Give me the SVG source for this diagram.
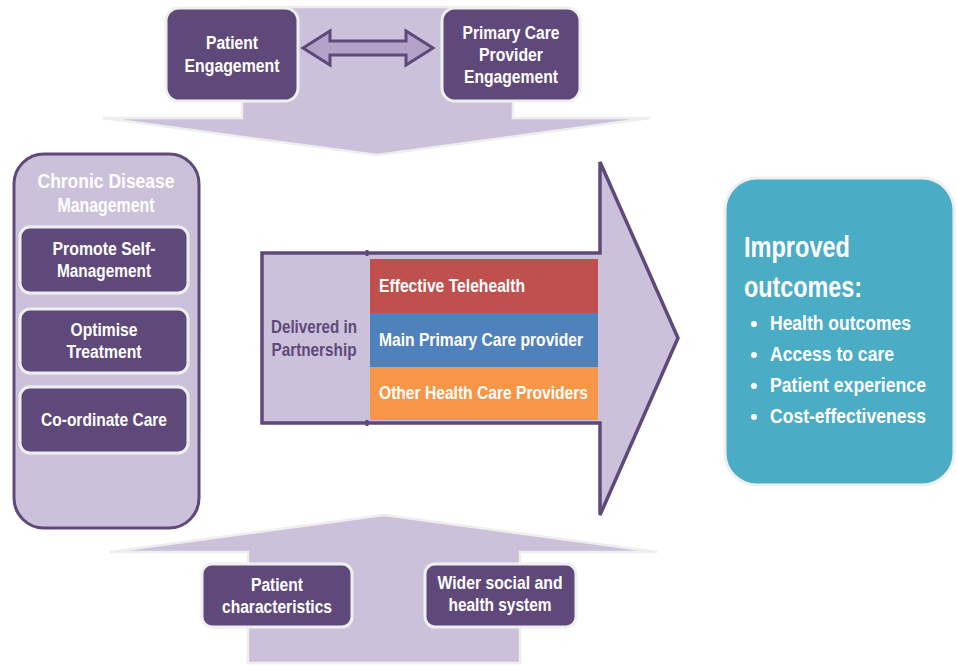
<svg xmlns="http://www.w3.org/2000/svg" width="957" height="665" viewBox="0 0 957 665">
<style>
.bg{fill:#ffffff}
.lav{fill:#ccc1da;stroke:#eeeeee;stroke-width:2.5}
.dark{fill:#5f497a;stroke:#efefef;stroke-width:3}
.t{font-family:"Liberation Sans",Arial,sans-serif;font-weight:bold;fill:#ffffff;text-anchor:middle}
.w{font-size:17.5px}
.band{font-family:"Liberation Sans",Arial,sans-serif;font-weight:bold;fill:#ffffff;font-size:18px}
.pt{font-family:"Liberation Sans",Arial,sans-serif;font-weight:bold;fill:#5f497a;font-size:18px;text-anchor:middle}
.out{font-family:"Liberation Sans",Arial,sans-serif;font-weight:bold;fill:#ffffff}
</style>
<rect class="bg" x="0" y="0" width="957" height="665"/>
<g id="connectors">
  <path id="top-arrow" class="lav" d="M242,7 L513,7 L513,118 L650,118 L377,155 L103,118 L242,118 Z"/>
  <path id="bottom-arrow" class="lav" d="M384,515 L657,552 L520,552 L520,663 L248,663 L248,552 L110,552 Z"/>
  <path id="double-arrow" d="M303,48 L330,31 L330,41 L406,41 L406,31 L433,48 L406,65 L406,55 L330,55 L330,65 Z" fill="#b3a2c7" stroke="#5f497a" stroke-width="3" stroke-linejoin="miter"/>
</g>
<g id="patient-engagement">
  <rect class="dark" x="166" y="8" width="132" height="93" rx="13"/>
  <text class="t w" x="232" y="49" textLength="52" lengthAdjust="spacingAndGlyphs">Patient</text>
  <text class="t w" x="232" y="72" textLength="95" lengthAdjust="spacingAndGlyphs">Engagement</text>
</g>
<g id="pcp-engagement">
  <rect class="dark" x="442" y="8" width="138" height="93" rx="13"/>
  <text class="t w" x="511" y="39" textLength="97" lengthAdjust="spacingAndGlyphs">Primary Care</text>
  <text class="t w" x="511" y="61" textLength="64" lengthAdjust="spacingAndGlyphs">Provider</text>
  <text class="t w" x="511" y="83" textLength="94" lengthAdjust="spacingAndGlyphs">Engagement</text>
</g>
<g id="chronic-disease-management">
  <rect x="14" y="154" width="185" height="374" rx="30" fill="#ccc1da" stroke="#5f497a" stroke-width="3"/>
  <text class="t" x="106" y="188" font-size="19.5" textLength="137" lengthAdjust="spacingAndGlyphs">Chronic Disease</text>
  <text class="t" x="106" y="212" font-size="19.5" textLength="97" lengthAdjust="spacingAndGlyphs">Management</text>
</g>
<g id="promote-self-management">
  <rect class="dark" x="20" y="227" width="168" height="66" rx="10"/>
  <text class="t w" x="104" y="255" textLength="103" lengthAdjust="spacingAndGlyphs">Promote Self-</text>
  <text class="t w" x="104" y="277" textLength="94" lengthAdjust="spacingAndGlyphs">Management</text>
</g>
<g id="optimise-treatment">
  <rect class="dark" x="20" y="309" width="168" height="64" rx="10"/>
  <text class="t w" x="104" y="336" textLength="67" lengthAdjust="spacingAndGlyphs">Optimise</text>
  <text class="t w" x="104" y="358" textLength="75" lengthAdjust="spacingAndGlyphs">Treatment</text>
</g>
<g id="coordinate-care">
  <rect class="dark" x="20" y="387" width="168" height="66" rx="10"/>
  <text class="t w" x="104" y="426" textLength="126" lengthAdjust="spacingAndGlyphs">Co-ordinate Care</text>
</g>
<g id="delivered-in-partnership">
  <path d="M262,253 L600,253 L600,162 L678,338 L600,515 L600,423 L262,423 Z" fill="#ccc1da" stroke="#5f497a" stroke-width="3.5" stroke-linejoin="miter"/>
  <path d="M367,250 L367,256 M367,420 L367,426" stroke="#5f497a" stroke-width="3"/>
  <text class="pt" x="314" y="333" textLength="86" lengthAdjust="spacingAndGlyphs">Delivered in</text>
  <text class="pt" x="314" y="356" textLength="85" lengthAdjust="spacingAndGlyphs">Partnership</text>
</g>
<g id="effective-telehealth">
  <rect x="370" y="259" width="228" height="54" fill="#c0504d"/>
  <text class="band" x="379" y="292" textLength="146" lengthAdjust="spacingAndGlyphs">Effective Telehealth</text>
</g>
<g id="main-primary-care-provider">
  <rect x="370" y="313" width="228" height="54" fill="#4f81bd"/>
  <text class="band" x="379" y="346" textLength="204" lengthAdjust="spacingAndGlyphs">Main Primary Care provider</text>
</g>
<g id="other-health-care-providers">
  <rect x="370" y="367" width="228" height="53" fill="#f79646"/>
  <text class="band" x="379" y="399" textLength="209" lengthAdjust="spacingAndGlyphs">Other Health Care Providers</text>
</g>
<g id="improved-outcomes">
  <rect x="725" y="178" width="229" height="307" rx="32" fill="#4bacc6" stroke="#efefef" stroke-width="3"/>
  <text class="out" x="744" y="257" font-size="30" textLength="106" lengthAdjust="spacingAndGlyphs">Improved</text>
  <text class="out" x="744" y="297" font-size="30" textLength="118" lengthAdjust="spacingAndGlyphs">outcomes:</text>
  <g fill="#ffffff">
    <circle cx="754" cy="324" r="3"/>
    <circle cx="754" cy="355" r="3"/>
    <circle cx="754" cy="386" r="3"/>
    <circle cx="754" cy="417" r="3"/>
  </g>
  <text class="out" x="770" y="330" font-size="19.5" textLength="141" lengthAdjust="spacingAndGlyphs">Health outcomes</text>
  <text class="out" x="770" y="361" font-size="19.5" textLength="124" lengthAdjust="spacingAndGlyphs">Access to care</text>
  <text class="out" x="770" y="392" font-size="19.5" textLength="156" lengthAdjust="spacingAndGlyphs">Patient experience</text>
  <text class="out" x="770" y="423" font-size="19.5" textLength="156" lengthAdjust="spacingAndGlyphs">Cost-effectiveness</text>
</g>
<g id="patient-characteristics">
  <rect class="dark" x="202" y="564" width="150" height="63" rx="10"/>
  <text class="t w" x="277" y="591" textLength="52" lengthAdjust="spacingAndGlyphs">Patient</text>
  <text class="t w" x="277" y="613" textLength="110" lengthAdjust="spacingAndGlyphs">characteristics</text>
</g>
<g id="wider-social-health-system">
  <rect class="dark" x="425" y="564" width="151" height="63" rx="10"/>
  <text class="t w" x="500" y="589" textLength="125" lengthAdjust="spacingAndGlyphs">Wider social and</text>
  <text class="t w" x="500" y="611" textLength="103" lengthAdjust="spacingAndGlyphs">health system</text>
</g>
</svg>
